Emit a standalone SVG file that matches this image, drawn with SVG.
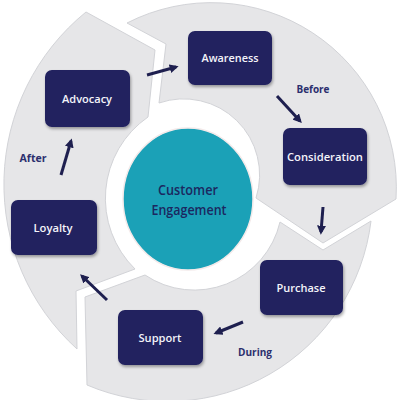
<svg xmlns="http://www.w3.org/2000/svg" width="400" height="400" viewBox="0 0 400 400">
  <defs>
    <style>
      .seg { fill: #e6e6e8; stroke: #d2d3d7; stroke-width: 1; }
      .box { fill: #20205e; filter: url(#sh); }
      .boxtxt { font-family: "Open Sans", "Liberation Sans", sans-serif; font-weight: 600; font-size: 11px; fill: #f4f4fa; text-anchor: middle; }
      .lbl { font-family: "Open Sans", "Liberation Sans", sans-serif; font-weight: 700; font-size: 10px; fill: #2b2f6e; text-anchor: middle; }
      .ctr { font-family: "Open Sans", "Liberation Sans", sans-serif; font-weight: 600; font-size: 14px; fill: #1b2860; text-anchor: middle; }
      .conn { stroke: #1e1f4f; stroke-width: 3; fill: none; marker-end: url(#ah); }
    </style>
    <filter id="sh" x="-20%" y="-20%" width="140%" height="150%">
      <feDropShadow dx="1" dy="2" stdDeviation="1.5" flood-color="#000" flood-opacity="0.35"/>
    </filter>
    <marker id="ah" viewBox="0 0 10 10" refX="7" refY="5" markerWidth="9" markerHeight="9" markerUnits="userSpaceOnUse" orient="auto">
      <path d="M0,0 L10,5 L0,10 Z" fill="#1e1f4f"/>
    </marker>
  </defs>
  <rect width="400" height="400" fill="#ffffff"/>

  <g id="ring">
    <path class="seg" d="M127,23 A185,185 0 0 1 396,199 L323,243 L256,198 A76,76 0 0 0 159,103 L166,44 Z"/>
    <path class="seg" d="M371,221 A205,205 0 0 1 87,385 L85,297 L145,275 A88,88 0 0 0 280,222 L323,250 Z"/>
    <path class="seg" d="M77,349 A222,222 0 0 1 86,12 L155,50 L148,117 A99,99 0 0 0 135,269 L76,291 Z"/>
  </g>

  <g id="center">
    <ellipse cx="188" cy="199" rx="65" ry="71" fill="#1ba1b7" stroke="#f3eaea" stroke-width="1.5"/>
    <text class="ctr" x="188" y="195" textLength="60" lengthAdjust="spacingAndGlyphs">Customer</text>
    <text class="ctr" x="189" y="215" textLength="75" lengthAdjust="spacingAndGlyphs">Engagement</text>
  </g>

  <g id="connectors">
    <line class="conn" x1="147" y1="75" x2="176" y2="67"/>
    <line class="conn" x1="277" y1="96" x2="300" y2="121"/>
    <line class="conn" x1="323" y1="207" x2="321" y2="232"/>
    <line class="conn" x1="243" y1="322" x2="216" y2="333"/>
    <line class="conn" x1="107" y1="300" x2="82" y2="276"/>
    <line class="conn" x1="61" y1="175" x2="71" y2="141"/>
  </g>

  <g id="awareness">
    <rect class="box" x="188" y="31" width="84" height="54" rx="7"/>
    <text class="boxtxt" x="230" y="62" textLength="57" lengthAdjust="spacingAndGlyphs">Awareness</text>
  </g>
  <g id="consideration">
    <rect class="box" x="283" y="128" width="84" height="57" rx="7"/>
    <text class="boxtxt" x="325" y="161" textLength="76" lengthAdjust="spacingAndGlyphs">Consideration</text>
  </g>
  <g id="purchase">
    <rect class="box" x="260" y="260" width="83" height="55" rx="7"/>
    <text class="boxtxt" x="301" y="292" textLength="49" lengthAdjust="spacingAndGlyphs">Purchase</text>
  </g>
  <g id="support">
    <rect class="box" x="118" y="310" width="85" height="55" rx="7"/>
    <text class="boxtxt" x="160" y="342" textLength="43" lengthAdjust="spacingAndGlyphs">Support</text>
  </g>
  <g id="loyalty">
    <rect class="box" x="11" y="200" width="86" height="55" rx="7"/>
    <text class="boxtxt" x="53" y="232" textLength="39" lengthAdjust="spacingAndGlyphs">Loyalty</text>
  </g>
  <g id="advocacy">
    <rect class="box" x="45" y="70" width="85" height="57" rx="7"/>
    <text class="boxtxt" x="87" y="103" textLength="50" lengthAdjust="spacingAndGlyphs">Advocacy</text>
  </g>

  <g id="labels">
    <text class="lbl" x="313" y="93" textLength="33" lengthAdjust="spacingAndGlyphs">Before</text>
    <text class="lbl" x="33" y="162" textLength="27" lengthAdjust="spacingAndGlyphs">After</text>
    <text class="lbl" x="255" y="356" textLength="34" lengthAdjust="spacingAndGlyphs">During</text>
  </g>
</svg>
